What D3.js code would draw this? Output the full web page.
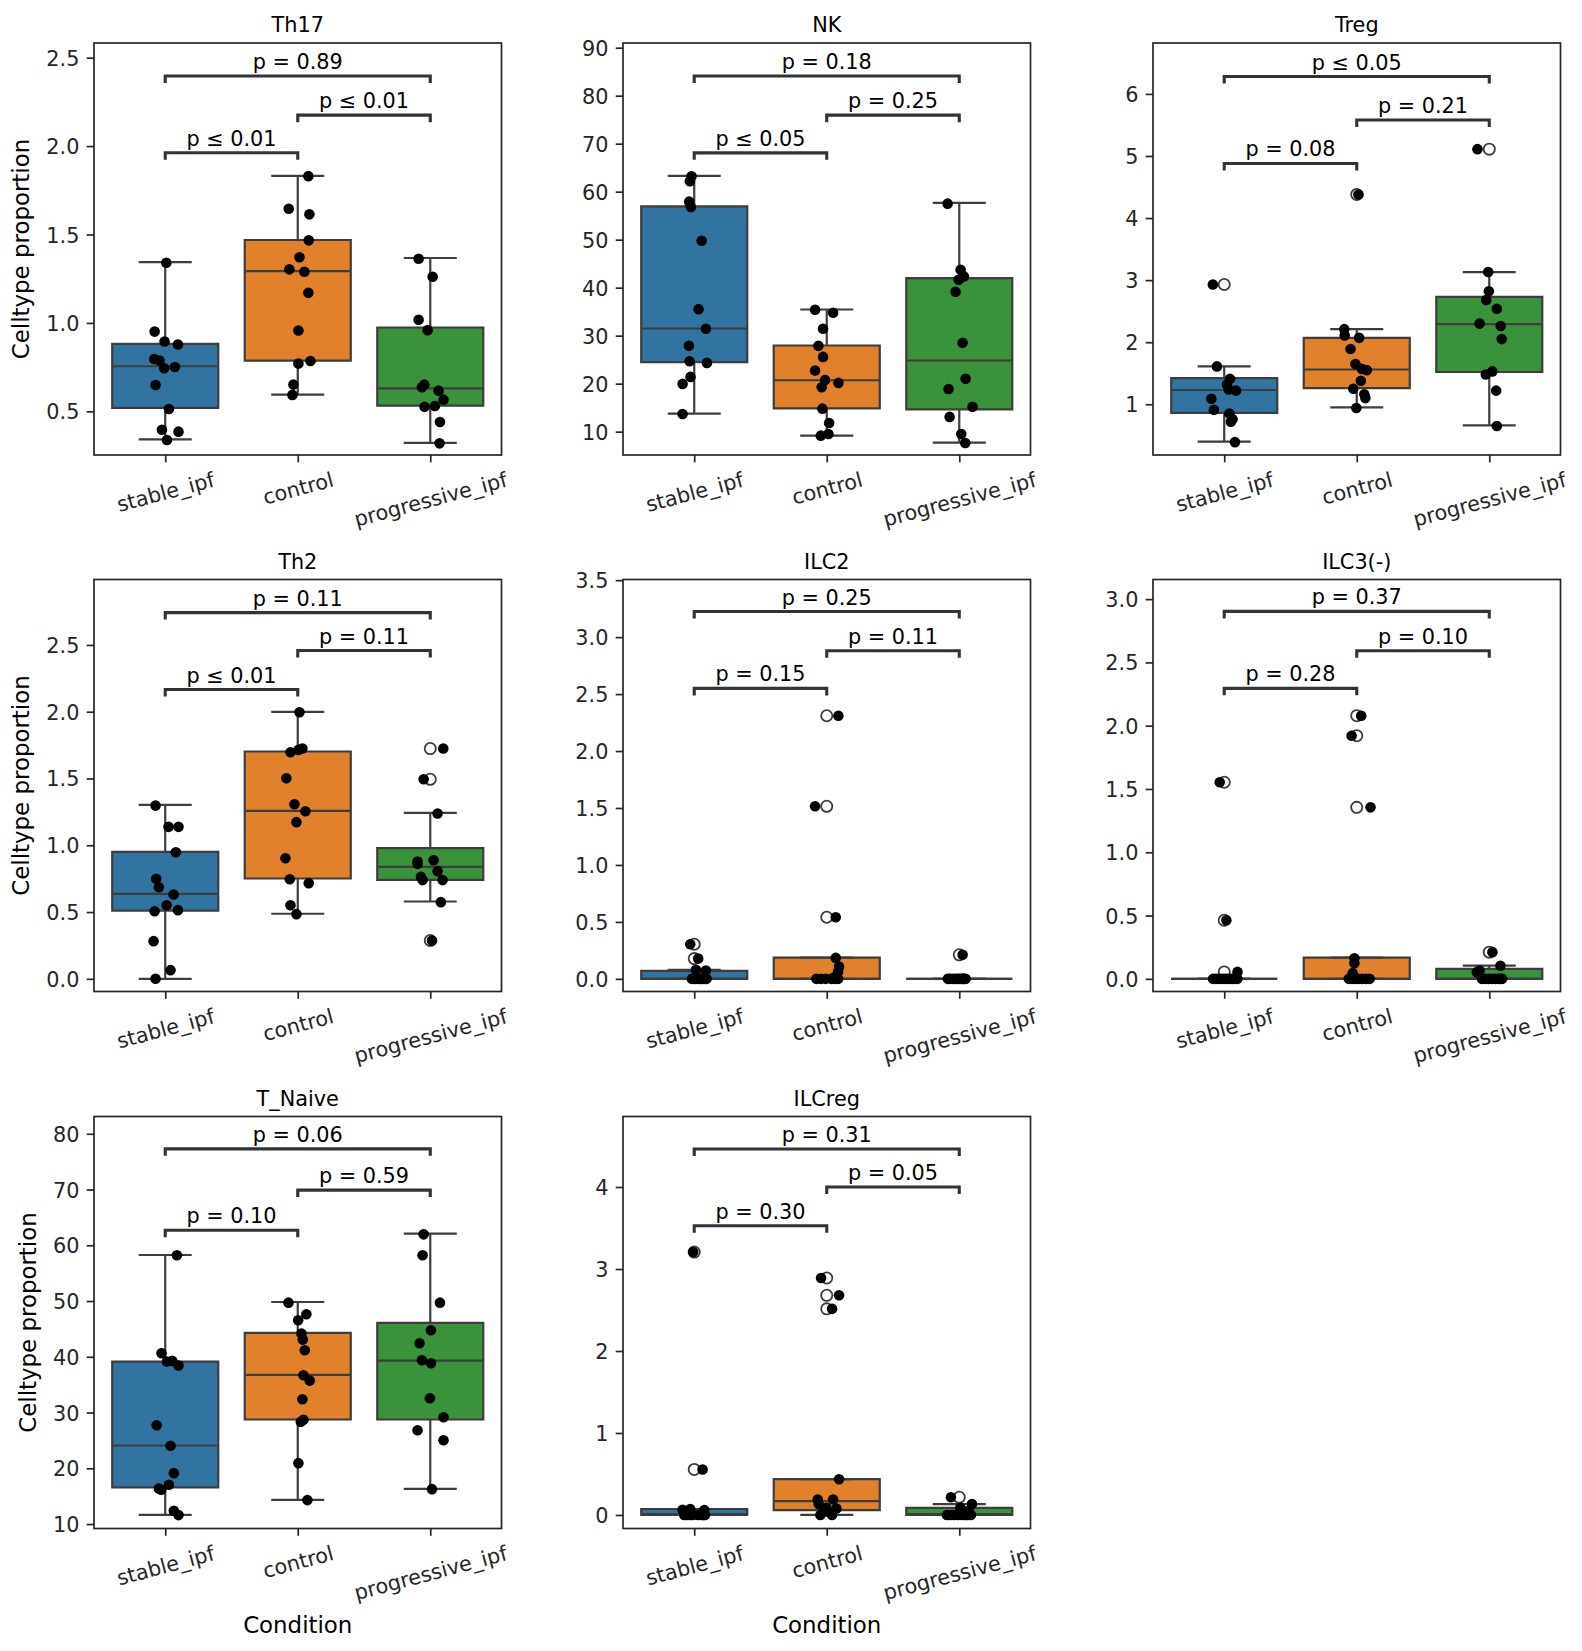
<!DOCTYPE html>
<html>
<head>
<meta charset="utf-8">
<script src="https://cdn.jsdelivr.net/npm/d3@7"></script>
<style>
  body { margin: 0; background: #fff; }
  text { font-family: "DejaVu Sans", sans-serif; }
</style>
</head>
<body>
<svg id="chart"></svg>
<script>
// Categories, palette and panel names
const conditions = ["stable_ipf", "control", "progressive_ipf"];
const boxColors = ["#3274a1", "#e1812c", "#3a923a"];
const cellTypes = ["Th17", "NK", "Treg", "Th2", "ILC2", "ILC3(-)", "T_Naive", "ILCreg"];

// Per-sample proportions (one array per condition) and the strip jitter
const th17Values = [
  [1.340, 0.951, 0.895, 0.878, 0.796, 0.787, 0.744, 0.751, 0.649, 0.513, 0.396, 0.385, 0.338],
  [1.830, 1.646, 1.614, 1.467, 1.371, 1.303, 1.289, 1.170, 0.957, 0.785, 0.770, 0.651, 0.593],
  [1.363, 1.261, 1.018, 0.959, 0.651, 0.636, 0.617, 0.566, 0.526, 0.530, 0.440, 0.319]
];
const th17Jitter = [
  [0.008, -0.080, -0.005, 0.096, -0.083, -0.043, -0.008, 0.073, -0.073, 0.028, -0.025, 0.100, 0.013],
  [0.080, -0.068, 0.088, 0.083, 0.013, -0.063, 0.050, 0.080, 0.005, 0.096, 0.005, -0.033, -0.040],
  [-0.088, 0.018, -0.088, -0.020, -0.045, -0.063, 0.063, 0.100, -0.043, 0.035, 0.073, 0.070]
];
const nkValues = [
  [63.22, 62.17, 57.93, 56.82, 49.79, 35.53, 31.43, 27.88, 24.68, 24.33, 21.41, 19.95, 13.69],
  [35.39, 34.77, 31.43, 27.88, 25.58, 22.73, 20.78, 20.16, 19.25, 14.80, 11.81, 9.51, 9.17],
  [57.51, 43.74, 42.35, 41.65, 39.15, 28.51, 21.03, 18.90, 15.17, 13.08, 9.51, 7.63]
];
const nkJitter = [
  [-0.020, -0.033, -0.038, -0.025, 0.056, 0.033, 0.088, -0.040, -0.035, 0.096, -0.028, -0.088, -0.088],
  [-0.088, 0.048, -0.028, -0.063, -0.028, -0.088, -0.013, 0.088, -0.038, -0.033, 0.018, 0.013, -0.045],
  [-0.088, 0.010, 0.035, -0.005, -0.028, 0.025, 0.048, -0.081, 0.100, -0.073, 0.015, 0.045]
];
const tregValues = [
  [2.93, 1.61, 1.41, 1.32, 1.24, 1.22, 1.09, 0.91, 0.85, 0.76, 0.72, 0.39],
  [4.38, 2.21, 2.11, 2.07, 1.89, 1.65, 1.57, 1.55, 1.38, 1.25, 1.16, 1.10, 0.94],
  [5.11, 3.13, 2.82, 2.68, 2.54, 2.30, 2.26, 2.05, 1.53, 1.48, 1.22, 0.65]
];
const tregJitter = [
  [-0.086, -0.055, 0.044, 0.021, 0.034, 0.089, -0.097, -0.078, 0.039, 0.063, 0.050, 0.081],
  [0.013, -0.094, -0.091, 0.018, -0.047, -0.010, 0.039, 0.076, 0.031, -0.026, 0.057, 0.065, -0.003],
  [-0.089, -0.008, -0.003, -0.023, 0.057, -0.073, 0.086, 0.094, 0.023, -0.026, 0.052, 0.057]
];
const th2Values = [
  [1.297, 1.138, 1.138, 0.948, 0.749, 0.686, 0.631, 0.551, 0.506, 0.514, 0.282, 0.065, 0.000],
  [1.996, 1.724, 1.714, 1.697, 1.502, 1.307, 1.255, 1.173, 0.903, 0.746, 0.716, 0.551, 0.484],
  [1.724, 1.494, 1.238, 0.878, 0.888, 0.861, 0.806, 0.763, 0.739, 0.739, 0.574, 0.287]
];
const th2Jitter = [
  [-0.073, 0.025, 0.100, 0.080, -0.068, -0.048, 0.063, 0.010, -0.080, 0.096, -0.088, 0.040, -0.073],
  [0.013, 0.035, 0.005, -0.055, -0.086, -0.025, 0.058, -0.010, -0.093, -0.060, 0.083, -0.055, -0.010],
  [0.098, -0.050, 0.055, -0.096, 0.025, -0.096, 0.055, -0.070, -0.058, 0.093, 0.080, 0.013]
];
const ilc2Values = [
  [0.304, 0.178, 0.073, 0.079, 0, 0, 0, 0, 0, 0, 0, 0, 0],
  [2.310, 1.515, 0.541, 0.184, 0.108, 0.064, 0.015, 0, 0, 0, 0, 0, 0],
  [0.211, 0, 0, 0, 0, 0, 0, 0, 0, 0, 0, 0]
];
const ilc2Jitter = [
  [-0.030, 0.030, 0.088, 0.013, -0.018, 0.004, 0.012, 0.031, 0.046, 0.052, 0.071, 0.084, 0.093],
  [0.088, -0.088, 0.068, 0.068, 0.093, 0.086, 0.060, -0.078, -0.045, -0.008, 0.035, 0.064, 0.086],
  [0.025, -0.086, -0.070, -0.050, -0.032, -0.015, -0.002, 0.012, 0.025, 0.038, 0.048, 0.030]
];
const ilc3Values = [
  [1.553, 0.463, 0.055, 0, 0, 0, 0, 0, 0, 0, 0, 0, 0],
  [2.079, 1.921, 1.355, 0.163, 0.124, 0.045, 0, 0, 0, 0, 0, 0, 0],
  [0.211, 0.103, 0.066, 0.053, 0, 0, 0, 0, 0, 0, 0, 0]
];
const ilc3Jitter = [
  [-0.034, 0.016, 0.100, -0.084, -0.062, -0.041, -0.020, 0.000, 0.020, 0.043, 0.060, 0.082, 0.099],
  [0.034, -0.039, 0.104, -0.018, -0.018, -0.031, -0.060, -0.035, -0.010, 0.015, 0.040, 0.070, 0.097],
  [0.024, 0.084, -0.073, -0.094, -0.055, -0.030, -0.005, 0.020, 0.045, 0.070, 0.085, 0.097]
];
const tNaiveValues = [
  [58.20, 40.63, 39.14, 39.26, 38.42, 27.73, 24.03, 19.13, 17.04, 16.38, 16.14, 12.38, 11.60],
  [49.71, 47.62, 46.55, 44.16, 43.08, 41.17, 36.69, 35.73, 32.39, 28.69, 28.33, 20.92, 14.29],
  [61.96, 58.20, 49.71, 44.75, 42.43, 39.38, 38.84, 32.57, 29.16, 26.83, 25.04, 16.26]
];
const tNaiveJitter = [
  [0.088, -0.028, 0.013, 0.053, 0.100, -0.065, 0.040, 0.065, 0.028, -0.048, -0.030, 0.065, 0.100],
  [-0.070, 0.065, 0.003, 0.028, 0.038, 0.053, 0.043, 0.090, 0.035, 0.043, 0.023, 0.005, 0.073],
  [-0.050, -0.058, 0.073, 0.005, -0.081, -0.063, 0.005, -0.003, 0.100, -0.096, 0.100, 0.013]
];
const ilcRegValues = [
  [3.206, 0.555, 0.073, 0.064, 0.060, 0, 0, 0, 0, 0, 0, 0, 0],
  [2.890, 2.679, 2.514, 0.436, 0.188, 0.188, 0.133, 0.087, 0.078, 0.060, 0.040, 0, 0],
  [0.216, 0.133, 0.087, 0.050, 0, 0, 0, 0, 0, 0, 0, 0]
];
const ilcRegJitter = [
  [-0.008, 0.063, -0.030, -0.088, 0.076, -0.076, -0.055, -0.030, -0.010, 0.030, 0.058, 0.081, 0.070],
  [-0.043, 0.093, 0.040, 0.093, -0.068, 0.048, -0.061, -0.003, 0.073, -0.020, 0.010, -0.048, 0.040],
  [-0.063, 0.096, 0.008, 0.071, -0.093, -0.068, -0.042, -0.010, 0.020, 0.045, 0.062, 0.088]
];

// Box statistics per condition: [lower whisker, q1, median, q3, upper whisker]
const th17Boxes = [[0.341, 0.519, 0.755, 0.881, 1.344], [0.594, 0.787, 1.293, 1.469, 1.831], [0.322, 0.532, 0.630, 0.974, 1.367]];
const nkBoxes = [[13.76, 24.47, 31.50, 56.96, 63.29], [9.17, 14.87, 20.71, 27.95, 35.46], [7.70, 14.66, 24.83, 42.0, 57.65]];
const tregBoxes = [[0.40, 0.86, 1.23, 1.42, 1.61], [0.95, 1.26, 1.56, 2.07, 2.21], [0.66, 1.52, 2.29, 2.73, 3.13]];
const th2Boxes = [[0.0, 0.511, 0.636, 0.951, 1.302], [0.487, 0.751, 1.257, 1.702, 1.999], [0.579, 0.741, 0.838, 0.978, 1.242]];
const ilc2Boxes = [[0, 0, 0, 0.070, 0.079], [0, 0, 0, 0.187, 0.187], [0, 0, 0, 0, 0]];
const ilc3Boxes = [[0, 0, 0, 0, 0], [0, 0, 0, 0.168, 0.168], [0, 0, 0, 0.079, 0.105]];
const tNaiveBoxes = [[11.66, 16.56, 24.09, 39.14, 58.26], [14.35, 28.75, 36.75, 44.28, 49.83], [16.32, 28.75, 39.32, 46.07, 62.08]];
const ilcRegBoxes = [[0, 0, 0.01, 0.073, 0.073], [0, 0.06, 0.17, 0.436, 0.436], [0, 0, 0.01, 0.087, 0.133]];

// Axis ranges and ticks per panel
const yDomains = [[0.253, 2.583], [5.14, 90.98], [0.183, 6.82], [-0.095, 2.99], [-0.111, 3.506], [-0.1, 3.155], [9.2, 83.1], [-0.165, 4.86]];
const yTicks = [
  [0.5, 1.0, 1.5, 2.0, 2.5],
  [10, 20, 30, 40, 50, 60, 70, 80, 90],
  [1, 2, 3, 4, 5, 6],
  [0.0, 0.5, 1.0, 1.5, 2.0, 2.5],
  [0.0, 0.5, 1.0, 1.5, 2.0, 2.5, 3.0, 3.5],
  [0.0, 0.5, 1.0, 1.5, 2.0, 2.5, 3.0],
  [10, 20, 30, 40, 50, 60, 70, 80],
  [0, 1, 2, 3, 4]
];
const yFormats = [".1f", "d", "d", ".1f", ".1f", ".1f", "d", "d"];

// Pairwise tests: stable vs control, control vs progressive, stable vs progressive
const testPairs = [[0, 1], [1, 2], [0, 2]];
const pLabels = [
  ["p ≤ 0.01", "p ≤ 0.01", "p = 0.89"],
  ["p ≤ 0.05", "p = 0.25", "p = 0.18"],
  ["p = 0.08", "p = 0.21", "p ≤ 0.05"],
  ["p ≤ 0.01", "p = 0.11", "p = 0.11"],
  ["p = 0.15", "p = 0.11", "p = 0.25"],
  ["p = 0.28", "p = 0.10", "p = 0.37"],
  ["p = 0.10", "p = 0.59", "p = 0.06"],
  ["p = 0.30", "p = 0.05", "p = 0.31"]
];
const bracketLevels = [
  [1.962, 2.175, 2.396],
  [68.09, 75.95, 84.09],
  [4.88, 5.58, 6.28],
  [2.166, 2.458, 2.742],
  [2.550, 2.880, 3.225],
  [2.295, 2.592, 2.903],
  [62.7, 69.9, 77.3],
  [3.528, 4.0, 4.463]
];

const panelValues = [th17Values, nkValues, tregValues, th2Values, ilc2Values, ilc3Values, tNaiveValues, ilcRegValues];
const panelJitter = [th17Jitter, nkJitter, tregJitter, th2Jitter, ilc2Jitter, ilc3Jitter, tNaiveJitter, ilcRegJitter];
const panelBoxes = [th17Boxes, nkBoxes, tregBoxes, th2Boxes, ilc2Boxes, ilc3Boxes, tNaiveBoxes, ilcRegBoxes];

// ---------------- layout ----------------
const width = 1582;
const height = 1651;
const colLeft = [94, 623, 1153];
const rowTop = [43, 579.5, 1116.5];
const panelW = 407.5;
const panelH = 412;
const tickFont = 20.8;
const labelFont = 22.9;
const ink = "#262626";
const boxLine = "#3d3d3d";
const tickLen = 7.3;

const svg = d3.select("#chart")
  .attr("width", width)
  .attr("height", height);

svg.append("rect")
  .attr("width", width)
  .attr("height", height)
  .attr("fill", "#fff");

cellTypes.forEach((name, i) => {
  const row = Math.floor(i / 3);
  const col = i % 3;
  const g = svg.append("g")
    .attr("transform", `translate(${colLeft[col]},${rowTop[row]})`);

  const x = d3.scalePoint().domain(conditions).range([0, panelW]).padding(0.5375);
  const step = x.step();
  const y = d3.scaleLinear().domain(yDomains[i]).range([panelH, 0]);
  const tol = 0.01 * (yDomains[i][1] - yDomains[i][0]);

  // y axis
  const yAxis = g.append("g")
    .call(d3.axisLeft(y)
      .tickValues(yTicks[i])
      .tickFormat(d3.format(yFormats[i]))
      .tickSize(tickLen)
      .tickPadding(tickLen))
    .attr("font-size", tickFont)
    .attr("font-family", "DejaVu Sans");
  yAxis.select(".domain").remove();
  yAxis.selectAll("line").attr("stroke", ink).attr("stroke-width", 1.7);
  yAxis.selectAll("text").attr("fill", ink).attr("dy", "0.36em");

  // x axis with rotated labels
  const xAxis = g.append("g")
    .attr("transform", `translate(0,${panelH})`)
    .call(d3.axisBottom(x).tickSize(tickLen).tickPadding(tickLen))
    .attr("font-size", tickFont)
    .attr("font-family", "DejaVu Sans");
  xAxis.select(".domain").remove();
  xAxis.selectAll("line").attr("stroke", ink).attr("stroke-width", 1.7);
  const sin = Math.sin(15 * Math.PI / 180), cos = Math.cos(15 * Math.PI / 180);
  xAxis.selectAll("text")
    .attr("fill", ink)
    .attr("y", 0)
    .attr("dy", null)
    .attr("dominant-baseline", "central")
    .attr("text-anchor", "middle")
    .attr("transform", function () {
      const w = this.getComputedTextLength();
      const cy = tickLen * 2 - 2 + (w * sin + 1.17 * tickFont * cos) / 2;
      return `translate(0,${cy}) rotate(-15)`;
    });

  // boxes
  panelBoxes[i].forEach((b, k) => {
    const cx = x(conditions[k]);
    const x0 = cx - 0.4 * step, x1 = cx + 0.4 * step;
    const [lo, q1, med, q3, hi] = b;
    g.append("path")
      .attr("d", `M${x0},${y(q3)}H${x1}V${y(q1)}H${x0}Z`)
      .attr("fill", boxColors[k])
      .attr("stroke", boxLine)
      .attr("stroke-width", 2.2);
    g.append("line")
      .attr("x1", x0).attr("x2", x1)
      .attr("y1", y(med)).attr("y2", y(med))
      .attr("stroke", boxLine).attr("stroke-width", 2.2);
    [[q3, hi], [q1, lo]].forEach(([from, to]) => {
      g.append("line")
        .attr("x1", cx).attr("x2", cx)
        .attr("y1", y(from)).attr("y2", y(to))
        .attr("stroke", boxLine).attr("stroke-width", 2.2);
      g.append("line")
        .attr("x1", cx - 0.2 * step).attr("x2", cx + 0.2 * step)
        .attr("y1", y(to)).attr("y2", y(to))
        .attr("stroke", boxLine).attr("stroke-width", 2.2);
    });

    // fliers: samples beyond the whiskers, drawn at the category centre
    panelValues[i][k].filter(v => v > hi + tol || v < lo - tol).forEach(v => {
      g.append("circle")
        .attr("cx", cx).attr("cy", y(v)).attr("r", 5.6)
        .attr("fill", "none")
        .attr("stroke", boxLine)
        .attr("stroke-width", 1.8);
    });
  });

  // strip points
  panelValues[i].forEach((vals, k) => {
    g.selectAll(null)
      .data(vals.map((v, j) => ({ v, j: panelJitter[i][k][j] })))
      .join("circle")
      .attr("cx", d => x(conditions[k]) + d.j * step)
      .attr("cy", d => y(d.v))
      .attr("r", 5.3)
      .attr("fill", "#000");
  });

  // significance brackets
  testPairs.forEach(([a, b], t) => {
    const by = y(bracketLevels[i][t]);
    const xa = x(conditions[a]), xb = x(conditions[b]);
    g.append("path")
      .attr("d", `M${xa},${by + 7}V${by}H${xb}V${by + 7}`)
      .attr("fill", "none")
      .attr("stroke", "#333")
      .attr("stroke-width", 3.1);
    g.append("text")
      .attr("x", (xa + xb) / 2)
      .attr("y", by - 7)
      .attr("text-anchor", "middle")
      .attr("font-size", tickFont)
      .attr("fill", "#000")
      .text(pLabels[i][t]);
  });

  // frame
  g.append("rect")
    .attr("width", panelW)
    .attr("height", panelH)
    .attr("fill", "none")
    .attr("stroke", ink)
    .attr("stroke-width", 1.7);

  // title
  g.append("text")
    .attr("x", panelW / 2)
    .attr("y", -11)
    .attr("text-anchor", "middle")
    .attr("font-size", tickFont)
    .attr("fill", "#000")
    .text(name);

  // axis labels
  if (col === 0) {
    const bb = yAxis.node().getBBox();
    g.append("text")
      .attr("transform", `translate(${bb.x - 17},${panelH / 2}) rotate(-90)`)
      .attr("text-anchor", "middle")
      .attr("font-size", labelFont)
      .attr("fill", "#000")
      .text("Celltype proportion");
  }
  if (row === 2) {
    g.append("text")
      .attr("x", panelW / 2)
      .attr("y", panelH + 104)
      .attr("text-anchor", "middle")
      .attr("font-size", labelFont)
      .attr("fill", "#000")
      .text("Condition");
  }
});
</script>
</body>
</html>
